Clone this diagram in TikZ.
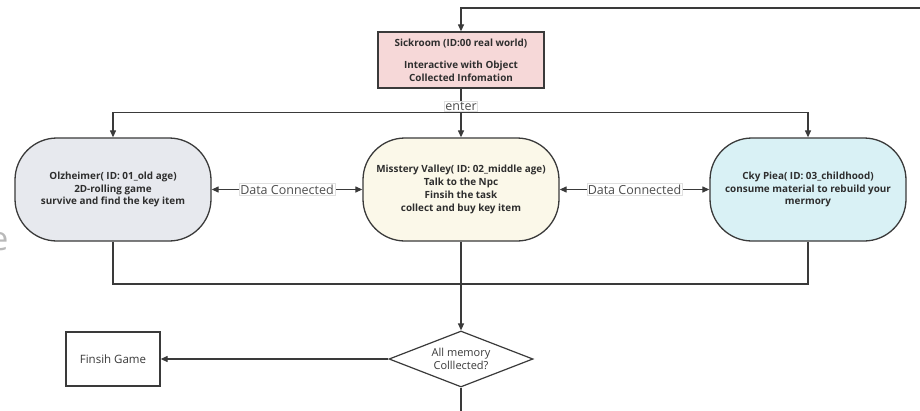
\documentclass[tikz,border=0pt]{standalone}
\usepackage{fontspec}
\setmainfont{Open Sans}
\usetikzlibrary{arrows.meta,shapes.geometric}
\definecolor{linec}{HTML}{3A3A3A}
\definecolor{textc}{HTML}{2E2E2E}
\definecolor{sickfill}{HTML}{F6D8D8}
\definecolor{oldfill}{HTML}{E7E9EE}
\definecolor{midfill}{HTML}{FBF8E9}
\definecolor{kidfill}{HTML}{D9F1F5}
\tikzset{
  flow/.style={draw=linec, line width=1.2pt},
  arr/.style={flow, -{Triangle[length=7pt,width=6pt]}},
  biarr/.style={flow, {Triangle[length=7pt,width=6pt]}-{Triangle[length=7pt,width=6pt]}},
  boldtext/.style={font=\fontsize{9.9}{12.8}\selectfont\bfseries, text=textc},
  stage/.style={draw=linec, line width=1.3pt, rounded corners=42pt,
    minimum width=196pt, minimum height=103pt, align=center, inner sep=0pt, boldtext},
  roombox/.style={draw=linec, line width=1.3pt, fill=sickfill,
    minimum width=166pt, minimum height=56pt, align=center, inner sep=0pt, boldtext},
  edgelabel/.style={fill=white, draw=gray!25, line width=0.4pt, inner sep=1pt,
    font=\fontsize{12.5}{13}\selectfont, text=linec!90},
  plainbox/.style={draw=linec, line width=1.3pt, fill=white,
    minimum width=94pt, minimum height=54pt, font=\fontsize{11.5}{13}\selectfont, text=linec},
  decision/.style={diamond, draw=linec, line width=1.2pt, fill=white, aspect=2.57,
    minimum width=144pt, minimum height=56pt, inner sep=0pt, align=center,
    font=\fontsize{11}{13.5}\selectfont, text=linec}
}
\begin{document}
\begin{tikzpicture}[x=1pt,y=-1pt]
\useasboundingbox[fill=white] (0,0) rectangle (920,410);

% stray fragment of a large grey letter at the left edge
\node[anchor=base east, inner sep=0pt, text=gray!55,
      font=\fontsize{33}{33}\selectfont] (frag) at (8.5,250) {e};

% real world room
\node[roombox] (sick) at (461,60)
  {Sickroom (ID:00 real world)\\[9pt]Interactive with Object\\Collected Infomation};

% the three memory worlds
\node[stage, fill=oldfill] (old) at (113,189.5)
  {Olzheimer( ID: 01\_old age)\\2D-rolling game\\survive and find the key item};
\node[stage, fill=midfill] (mid) at (461,189.5)
  {Misstery Valley( ID: 02\_middle age)\\Talk to the Npc\\Finsih the task\\collect and buy key item};
\node[stage, fill=kidfill] (kid) at (808,189.5)
  {Cky Piea( ID: 03\_childhood)\\consume material to rebuild your\\mermory};

% check and end
\node[decision] (check) at (461,359) {All memory\\Colllected?};
\node[plainbox] (fin) at (113,359) {Finsih Game};

% split from the sickroom into the worlds
\coordinate (split) at (461,112.5);
\draw[flow] (sick.south) -- (split);
\draw[arr] (split) -| (old.north);
\draw[arr] (split) -- (mid.north);
\draw[arr] (split) -| (kid.north);
\node[edgelabel] (enterlbl) at (461,106.5) {enter};

% data links between worlds
\draw[biarr] (old.east) -- (mid.west)
  node[midway, edgelabel] (dc1) {Data Connected};
\draw[biarr] (mid.east) -- (kid.west)
  node[midway, edgelabel] (dc2) {Data Connected};

% merge back to the check
\coordinate (mergeL) at (113,284);
\coordinate (mergeR) at (808,284);
\draw[flow] (old.south) -- (mergeL) -- (mergeR) -- (kid.south);
\draw[arr] (mid.south) -- (check.north);
\draw[arr] (check.west) -- (fin.east);

% loop back to the sickroom
\coordinate (loopA) at (461,411.2);
\coordinate (loopB) at (940,411.2);
\coordinate (loopC) at (940,8);
\coordinate (loopD) at (461,8);
\draw[arr] (check.south) -- (loopA) -- (loopB) -- (loopC) -- (loopD) -- (sick.north);
\end{tikzpicture}
\end{document}
